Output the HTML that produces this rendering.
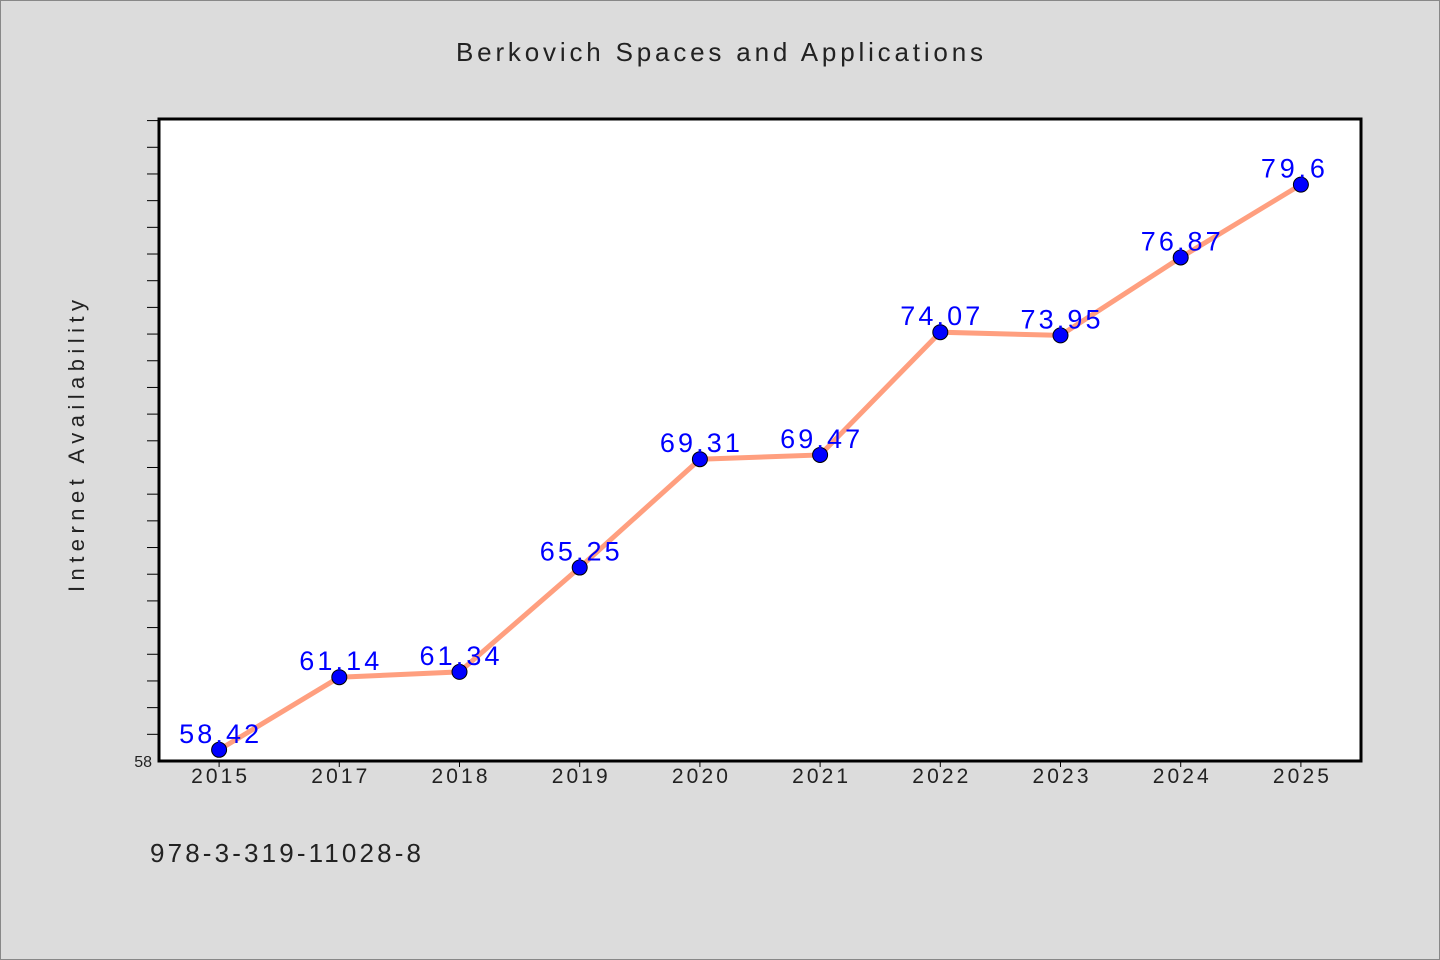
<!DOCTYPE html>
<html><head><meta charset="utf-8"><style>
body{margin:0;background:#dcdcdc;}
svg{display:block;font-family:"WenQuanYi Zen Hei Mono","WenQuanYi Zen Hei","Liberation Sans",sans-serif;}
</style></head><body>
<svg id="c" width="1440" height="960">
<rect x="0.5" y="0.5" width="1439" height="959" fill="#dcdcdc" stroke="#888"/>
<text x="456" y="61" font-size="26" fill="#222" textLength="527" lengthAdjust="spacing">Berkovich Spaces and Applications</text>
<rect x="159" y="119" width="1202" height="642" fill="#fff" stroke="#000" stroke-width="3"/>
<text transform="translate(84,592) rotate(-90)" font-size="22" fill="#222" textLength="292" lengthAdjust="spacing">Internet Availability</text>
<text x="150" y="862" font-size="26" fill="#222" textLength="271" lengthAdjust="spacing">978-3-319-11028-8</text>
<g id="ticks"></g><g id="marks"></g>
</svg>
<script>
const categories=["2015","2017","2018","2019","2020","2021","2022","2023","2024","2025"];
const values=[58.42,61.14,61.34,65.25,69.31,69.47,74.07,73.95,76.87,79.6];
const labels=["58.42","61.14","61.34","65.25","69.31","69.47","74.07","73.95","76.87","79.6"];
const yMin=58,yMax=82.06;
const L=159,R=1361,T=119,B=761;
const NS="http://www.w3.org/2000/svg";
const band=(R-L)/categories.length;
const xs=i=>L+band*(i+0.5);
const ys=v=>B-(v-yMin)/(yMax-yMin)*(B-T);
function mk(t,a,p){const e=document.createElementNS(NS,t);for(const k in a)e.setAttribute(k,a[k]);p.appendChild(e);return e;}
const tg=document.getElementById('ticks'),mg=document.getElementById('marks');
for(let v=yMin+1;v<yMax;v++){
 const l=mk('line',{x1:147,x2:159,y1:ys(v),y2:ys(v),stroke:'#000','stroke-width':1},tg);
 
 
}
const yl=mk('text',{x:152,y:B+6,'text-anchor':'end','font-size':16,fill:'#222'},tg);yl.textContent='58';


categories.forEach((c,i)=>{
 const l=mk('line',{x1:xs(i),x2:xs(i),y1:B,y2:B+6,stroke:'#000'},tg);
 
 
 const t=mk('text',{x:xs(i)-28,y:B+22,'font-size':21,fill:'#222',textLength:56,lengthAdjust:'spacing'},tg);t.textContent=c;
 
 
});
const pl=mk('polyline',{points:values.map((v,i)=>xs(i)+','+ys(v)).join(' '),fill:'none',stroke:'#ff9f7f','stroke-width':5},mg);


values.forEach((v,i)=>{
 const c=mk('circle',{cx:xs(i),cy:ys(v),r:7.5,fill:'#0000ff',stroke:'#000','stroke-width':1},mg);
 
 
 const w=labels[i].length*16;
 const t=mk('text',{x:xs(i)-40,y:ys(v)-7,'font-size':27,fill:'#0000ff',textLength:w,lengthAdjust:'spacing'},mg);t.textContent=labels[i];
 
 
});
</script>
</body></html>
